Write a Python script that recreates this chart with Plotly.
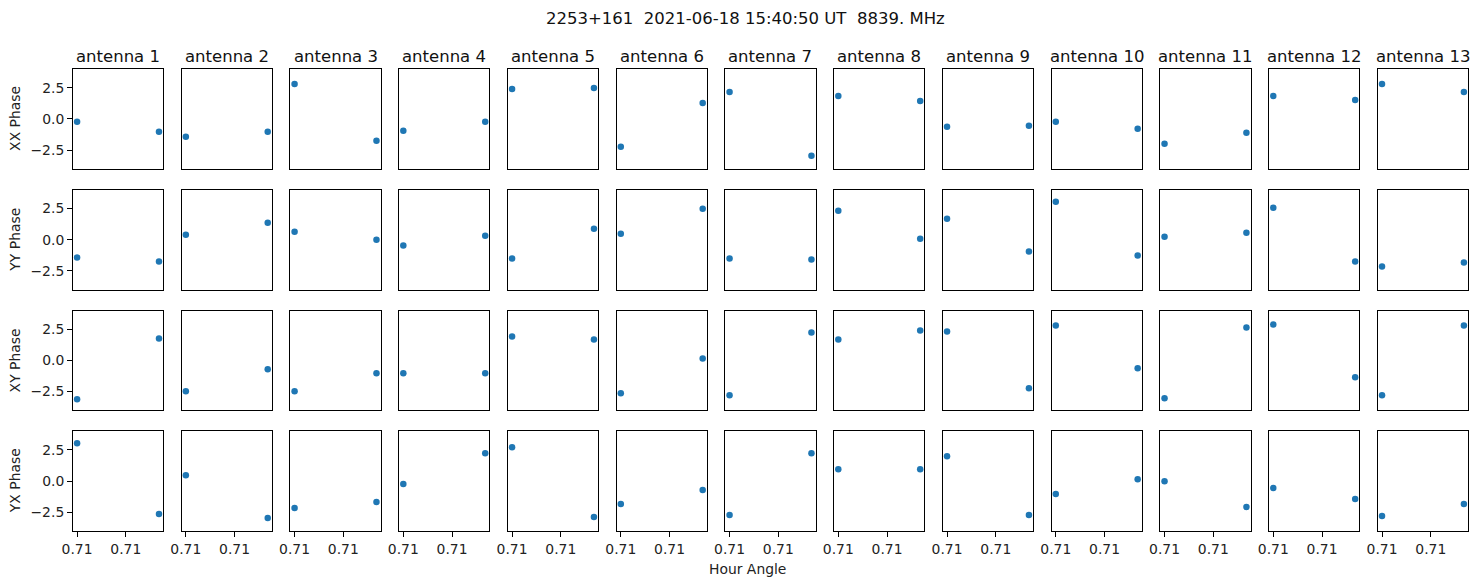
import plotly.graph_objects as go
from plotly.subplots import make_subplots

# ---- data ----
antennas = [f"antenna {i}" for i in range(1, 14)]
hour_angle = [0.71000, 0.71168]
x_tickvals = [0.710, 0.711]
x_ticktext = ["0.71", "0.71"]
y_tickvals = [-2.5, 0.0, 2.5]
y_ticktext = ["\u22122.5", "0.0", "2.5"]
row_labels = ["XX Phase", "YY Phase", "XY Phase", "YX Phase"]

xx_first = [-0.24, -1.44, 2.80, -0.96, 2.40, -2.24, 2.16, 1.84, -0.64, -0.24, -2.00, 1.84, 2.80]
xx_last = [-1.04, -1.04, -1.76, -0.24, 2.48, 1.28, -2.96, 1.44, -0.56, -0.80, -1.12, 1.52, 2.16]
yy_first = [-1.44, 0.40, 0.64, -0.48, -1.52, 0.48, -1.52, 2.32, 1.68, 3.04, 0.24, 2.56, -2.16]
yy_last = [-1.76, 1.36, 0.00, 0.32, 0.88, 2.48, -1.60, 0.08, -0.96, -1.28, 0.56, -1.76, -1.84]
xy_first = [-3.12, -2.48, -2.48, -1.04, 1.92, -2.64, -2.80, 1.68, 2.32, 2.80, -3.04, 2.88, -2.80]
xy_last = [1.76, -0.72, -1.04, -1.04, 1.68, 0.16, 2.24, 2.40, -2.24, -0.64, 2.64, -1.36, 2.80]
yx_first = [3.04, 0.48, -2.16, -0.24, 2.72, -1.84, -2.72, 0.96, 2.00, -1.04, 0.00, -0.56, -2.80]
yx_last = [-2.64, -2.96, -1.68, 2.24, -2.88, -0.72, 2.24, 0.96, -2.72, 0.16, -2.08, -1.44, -1.84]

series = [(xx_first, xx_last), (yy_first, yy_last), (xy_first, xy_last), (yx_first, yx_last)]

suptitle = "2253+161  2021-06-18 15:40:50 UT  8839. MHz"
xlabel = "Hour Angle"

# ---- layout geometry (pixels, page has an 8px body margin) ----
OFF = 8
W, H = 1481 - OFF, 586 - OFF
ML, MR, MT, MB = 73 - OFF, 13, 69 - OFF, 55
PW, PH = W - ML - MR, H - MT - MB
NR, NC = 4, 13

fig = make_subplots(rows=NR, cols=NC,
                    horizontal_spacing=18.67 / PW,
                    vertical_spacing=21.0 / PH)

FONT = "DejaVu Sans"
blue = "#1f77b4"
span = hour_angle[1] - hour_angle[0]
xr = [hour_angle[0] - 0.05 * span, hour_angle[1] + 0.05 * span]

for r in range(NR):
    first, last = series[r]
    for c in range(NC):
        fig.add_trace(go.Scatter(
            x=hour_angle, y=[first[c], last[c]], mode="markers",
            marker=dict(color=blue, size=6.5, line=dict(width=0)),
            showlegend=False), row=r + 1, col=c + 1)
        bottom = (r == NR - 1)
        left = (c == 0)
        fig.update_xaxes(row=r + 1, col=c + 1, range=xr,
                         showline=True, mirror=True, linecolor="black", linewidth=1,
                         showgrid=False, zeroline=False,
                         tickmode="array", tickvals=x_tickvals, ticktext=x_ticktext,
                         ticks="outside" if bottom else "", ticklen=5, tickwidth=1,
                         tickcolor="black",
                         showticklabels=bottom,
                         tickfont=dict(family=FONT, size=13.9, color="#222"))
        fig.update_yaxes(row=r + 1, col=c + 1, range=[-4, 4],
                         showline=True, mirror=True, linecolor="black", linewidth=1,
                         showgrid=False, zeroline=False,
                         tickmode="array", tickvals=y_tickvals, ticktext=y_ticktext,
                         ticks="outside" if left else "", ticklen=5, tickwidth=1,
                         tickcolor="black",
                         showticklabels=left,
                         tickfont=dict(family=FONT, size=13.9, color="#222"))


def px_x(px):
    return (px - OFF - ML) / PW


def px_y(py):
    return (H - MB - (py - OFF)) / PH


annotations = []
# subplot titles
for c in range(NC):
    ax = fig.get_subplot(1, c + 1)
    d = ax.xaxis.domain
    annotations.append(dict(text=antennas[c], xref="paper", yref="paper",
                            x=(d[0] + d[1]) / 2, y=px_y(56.5),
                            xanchor="center", yanchor="middle", showarrow=False,
                            font=dict(family=FONT, size=16.5, color="#111")))
# row labels
for r in range(NR):
    ax = fig.get_subplot(r + 1, 1)
    d = ax.yaxis.domain
    annotations.append(dict(text=row_labels[r], xref="paper", yref="paper",
                            x=px_x(15), y=(d[0] + d[1]) / 2,
                            xanchor="center", yanchor="middle", textangle=-90,
                            showarrow=False,
                            font=dict(family=FONT, size=13.9, color="#222")))
# suptitle
annotations.append(dict(text=suptitle, xref="paper", yref="paper",
                        x=px_x(745.7), y=px_y(18.3),
                        xanchor="center", yanchor="middle", showarrow=False,
                        font=dict(family=FONT, size=16.5, color="#111")))
# x label
annotations.append(dict(text=xlabel, xref="paper", yref="paper",
                        x=px_x(747.5), y=px_y(569.3),
                        xanchor="center", yanchor="middle", showarrow=False,
                        font=dict(family=FONT, size=13.9, color="#222")))

fig.update_layout(width=W, height=H,
                  margin=dict(l=ML, r=MR, t=MT, b=MB, pad=0),
                  paper_bgcolor="white", plot_bgcolor="white",
                  annotations=annotations,
                  font=dict(family=FONT))

fig.write_html("out.html")
